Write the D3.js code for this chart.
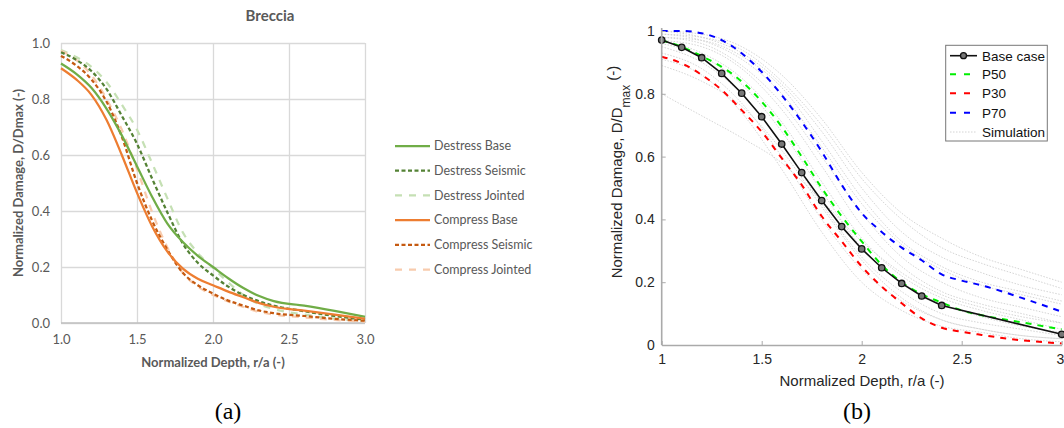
<!DOCTYPE html>
<html>
<head>
<meta charset="utf-8">
<script src="https://cdn.jsdelivr.net/npm/d3@7"></script>
<style>
body { margin: 0; background: #fff; }
svg { display: block; }
</style>
</head>
<body>
<div id="mainDiv"></div>
<script>
'use strict';

// ---- (a) Breccia ----
var depthA = [1.0, 1.1, 1.2, 1.3, 1.4, 1.5, 1.6, 1.7, 1.8, 1.9, 2.0, 2.1, 2.2, 2.3, 2.4, 2.6, 2.8, 3.0];
var destressBase    = [0.927, 0.89, 0.84, 0.765, 0.67, 0.56, 0.45, 0.355, 0.29, 0.24, 0.20, 0.16, 0.125, 0.097, 0.078, 0.062, 0.043, 0.022];
var destressSeismic = [0.967, 0.94, 0.90, 0.835, 0.74, 0.64, 0.515, 0.395, 0.285, 0.215, 0.17, 0.13, 0.10, 0.078, 0.062, 0.042, 0.025, 0.012];
var destressJointed = [0.975, 0.95, 0.915, 0.86, 0.78, 0.69, 0.57, 0.445, 0.325, 0.25, 0.197, 0.145, 0.10, 0.068, 0.05, 0.03, 0.016, 0.007];
var compressBase    = [0.91, 0.87, 0.815, 0.725, 0.60, 0.465, 0.345, 0.255, 0.195, 0.158, 0.135, 0.112, 0.092, 0.072, 0.058, 0.044, 0.03, 0.015];
var compressSeismic = [0.954, 0.92, 0.87, 0.79, 0.665, 0.50, 0.365, 0.262, 0.18, 0.135, 0.105, 0.08, 0.062, 0.045, 0.035, 0.025, 0.015, 0.008];
var compressJointed = [0.972, 0.94, 0.885, 0.80, 0.69, 0.55, 0.395, 0.27, 0.18, 0.13, 0.10, 0.077, 0.057, 0.04, 0.03, 0.02, 0.011, 0.005];
var seriesNamesA = ['Destress Base', 'Destress Seismic', 'Destress Jointed', 'Compress Base', 'Compress Seismic', 'Compress Jointed'];
var xTicksA = [1.0, 1.5, 2.0, 2.5, 3.0];
var yTicksA = [0.0, 0.2, 0.4, 0.6, 0.8, 1.0];

// ---- (b) percentiles ----
var depthBase = [1.0, 1.1, 1.2, 1.3, 1.4, 1.5, 1.6, 1.7, 1.8, 1.9, 2.0, 2.1, 2.2, 2.3, 2.4, 3.0];
var baseCase  = [0.971, 0.948, 0.915, 0.865, 0.802, 0.727, 0.64, 0.549, 0.46, 0.377, 0.306, 0.246, 0.196, 0.156, 0.126, 0.034];
var depthP = [1.0, 1.1, 1.2, 1.3, 1.4, 1.5, 1.6, 1.7, 1.8, 1.9, 2.0, 2.1, 2.2, 2.3, 2.4, 2.5, 2.6, 2.8, 3.0];
var p50 = [0.97, 0.95, 0.92, 0.886, 0.839, 0.775, 0.695, 0.60, 0.50, 0.41, 0.33, 0.255, 0.20, 0.162, 0.135, 0.11, 0.095, 0.072, 0.05];
var p30 = [0.918, 0.897, 0.86, 0.812, 0.748, 0.679, 0.595, 0.51, 0.41, 0.33, 0.25, 0.186, 0.133, 0.085, 0.055, 0.042, 0.032, 0.015, 0.005];
var p70 = [1.0, 1.0, 0.993, 0.971, 0.929, 0.87, 0.796, 0.711, 0.616, 0.51, 0.42, 0.36, 0.31, 0.27, 0.225, 0.205, 0.19, 0.15, 0.106];
var depthSim = [1.0, 1.2, 1.4, 1.6, 1.8, 2.0, 2.2, 2.4, 2.6, 2.8, 3.0];
var simulations = [
    [1.00, 0.99, 0.95, 0.86, 0.72, 0.55, 0.42, 0.34, 0.28, 0.24, 0.20],
    [0.99, 0.98, 0.94, 0.84, 0.70, 0.53, 0.40, 0.31, 0.26, 0.22, 0.18],
    [1.00, 0.98, 0.93, 0.83, 0.68, 0.50, 0.36, 0.28, 0.23, 0.19, 0.16],
    [0.98, 0.97, 0.92, 0.82, 0.65, 0.47, 0.33, 0.25, 0.20, 0.17, 0.14],
    [0.99, 0.97, 0.91, 0.80, 0.63, 0.45, 0.32, 0.24, 0.19, 0.16, 0.13],
    [0.98, 0.96, 0.89, 0.77, 0.60, 0.42, 0.28, 0.20, 0.15, 0.12, 0.09],
    [0.97, 0.95, 0.88, 0.75, 0.57, 0.38, 0.25, 0.17, 0.13, 0.10, 0.07],
    [0.97, 0.93, 0.85, 0.71, 0.52, 0.34, 0.22, 0.15, 0.11, 0.08, 0.05],
    [0.96, 0.92, 0.83, 0.68, 0.49, 0.31, 0.20, 0.13, 0.09, 0.06, 0.04],
    [0.95, 0.90, 0.80, 0.64, 0.45, 0.28, 0.17, 0.10, 0.07, 0.05, 0.03],
    [0.93, 0.88, 0.77, 0.60, 0.40, 0.24, 0.14, 0.08, 0.05, 0.03, 0.02],
    [0.91, 0.86, 0.74, 0.56, 0.36, 0.20, 0.11, 0.06, 0.04, 0.02, 0.01],
    [0.89, 0.84, 0.76, 0.62, 0.44, 0.27, 0.15, 0.08, 0.05, 0.03, 0.02],
    [0.80, 0.73, 0.66, 0.58, 0.46, 0.33, 0.23, 0.16, 0.12, 0.09, 0.07]
];
var legendNamesB = ['Base case', 'P50', 'P30', 'P70', 'Simulation'];
var xTicksB = [1, 1.5, 2, 2.5, 3];
var yTicksB = [0, 0.2, 0.4, 0.6, 0.8, 1];

var myApp = {};

myApp.pair = function(xs, ys)
{
    return xs.map(function(x, i){ return [x, ys[i]]; });
}

myApp.drawBreccia = function(svg)
{
    var font = 'Lato, "Open Sans", sans-serif';
    var grey = '#595959';
    var x = d3.scaleLinear().domain([1, 3]).range([61, 365]);
    var y = d3.scaleLinear().domain([0, 1]).range([323, 43]);

    var g = svg.append('g');

    // grid
    g.append('g')
        .attr('transform', 'translate(0,323)')
        .call(d3.axisBottom(x).tickValues(xTicksA).tickSize(-280).tickFormat(''))
        .call(function(a){ a.select('.domain').remove(); })
        .selectAll('line').attr('stroke', '#d9d9d9').attr('stroke-width', 1.3);
    g.append('g')
        .attr('transform', 'translate(61,0)')
        .call(d3.axisLeft(y).tickValues(yTicksA).tickSize(-304).tickFormat(''))
        .call(function(a){ a.select('.domain').remove(); })
        .selectAll('line').attr('stroke', '#d9d9d9').attr('stroke-width', 1.3);
    g.append('line')
        .attr('x1', x(1)).attr('x2', x(3)).attr('y1', y(0)).attr('y2', y(0))
        .attr('stroke', '#bfbfbf').attr('stroke-width', 1.3);

    // tick labels
    var xa = g.append('g')
        .attr('transform', 'translate(0,323)')
        .call(d3.axisBottom(x).tickValues(xTicksA).tickSize(0).tickPadding(12).tickFormat(d3.format('.1f')));
    var ya = g.append('g')
        .attr('transform', 'translate(61,0)')
        .call(d3.axisLeft(y).tickValues(yTicksA).tickSize(0).tickPadding(11).tickFormat(d3.format('.1f')));
    [xa, ya].forEach(function(a){
        a.select('.domain').remove();
        a.selectAll('text').attr('fill', grey).style('font-family', font).style('font-size', '13px');
    });

    var values = [destressBase, destressSeismic, destressJointed, compressBase, compressSeismic, compressJointed];
    var colors = ['#70ad47', '#548235', '#c5e0b4', '#ed7d31', '#c55a11', '#f8cbad'];
    var dashes = [null, '4,2.5', '7,7', null, '4,2.5', '7,7'];

    var line = d3.line()
        .x(function(d){ return x(d[0]); })
        .y(function(d){ return y(d[1]); })
        .curve(d3.curveMonotoneX);

    // draw light ones first so strong lines sit on top
    var order = [2, 5, 1, 4, 0, 3];
    order.forEach(function(i){
        g.append('path')
            .attr('d', line(myApp.pair(depthA, values[i])))
            .attr('fill', 'none')
            .attr('stroke', colors[i])
            .attr('stroke-width', 2.25)
            .attr('stroke-dasharray', dashes[i]);
    });

    // legend
    var lg = g.append('g');
    seriesNamesA.forEach(function(name, i){
        var cy = 146 + i * 24.7;
        lg.append('line')
            .attr('x1', 395).attr('x2', 430).attr('y1', cy).attr('y2', cy)
            .attr('stroke', colors[i]).attr('stroke-width', 2.25)
            .attr('stroke-dasharray', dashes[i]);
        lg.append('text')
            .attr('x', 434).attr('y', cy).attr('dy', '0.35em')
            .attr('fill', grey)
            .style('font-family', font).style('font-size', '12.5px')
            .text(name);
    });

    // titles
    g.append('text')
        .attr('x', 270).attr('y', 21).attr('text-anchor', 'middle')
        .attr('fill', grey).style('font-family', font).style('font-size', '15px').style('font-weight', 'bold')
        .text('Breccia');
    g.append('text')
        .attr('x', 213).attr('y', 367).attr('text-anchor', 'middle')
        .attr('fill', grey).style('font-family', font).style('font-size', '13px').style('font-weight', 'bold')
        .text('Normalized Depth, r/a (-)');
    g.append('text')
        .attr('transform', 'translate(23,183) rotate(-90)')
        .attr('text-anchor', 'middle')
        .attr('fill', grey).style('font-family', font).style('font-size', '13px').style('font-weight', 'bold')
        .text('Normalized Damage, D/Dmax (-)');
}

myApp.drawPercentiles = function(svg)
{
    var font = '"Liberation Sans", Arial, sans-serif';
    var x = d3.scaleLinear().domain([1, 3]).range([661.7, 1061.7]);
    var y = d3.scaleLinear().domain([0, 1]).range([345, 31]);

    var g = svg.append('g');

    var line = d3.line()
        .x(function(d){ return x(d[0]); })
        .y(function(d){ return y(d[1]); });
    var smooth = d3.line()
        .x(function(d){ return x(d[0]); })
        .y(function(d){ return y(d[1]); })
        .curve(d3.curveMonotoneX);

    simulations.forEach(function(s){
        g.append('path')
            .attr('d', smooth(myApp.pair(depthSim, s)))
            .attr('fill', 'none')
            .attr('stroke', '#cfcfcf')
            .attr('stroke-width', 0.9)
            .attr('stroke-dasharray', '1.5,1.5');
    });

    var pLines = [p50, p30, p70];
    var pColors = ['#00ee00', '#ff0000', '#0000ff'];
    [2, 1, 0].forEach(function(i){
        g.append('path')
            .attr('d', smooth(myApp.pair(depthP, pLines[i])))
            .attr('fill', 'none')
            .attr('stroke', pColors[i])
            .attr('stroke-width', 2)
            .attr('stroke-dasharray', '6,6');
    });

    var basePts = myApp.pair(depthBase, baseCase);
    g.append('path')
        .attr('d', line(basePts))
        .attr('fill', 'none')
        .attr('stroke', '#111')
        .attr('stroke-width', 1.6);
    g.selectAll('circle.base')
        .data(basePts)
        .enter()
        .append('circle')
        .attr('class', 'base')
        .attr('cx', function(d){ return x(d[0]); })
        .attr('cy', function(d){ return y(d[1]); })
        .attr('r', 3.2)
        .attr('fill', '#777')
        .attr('stroke', '#111')
        .attr('stroke-width', 1.3);

    // axes
    var xa = g.append('g')
        .attr('transform', 'translate(0,345)')
        .call(d3.axisBottom(x).tickValues(xTicksB).tickSizeInner(-4).tickSizeOuter(0).tickPadding(9).tickFormat(d3.format('~g')));
    var ya = g.append('g')
        .attr('transform', 'translate(661.7,0)')
        .call(d3.axisLeft(y).tickValues(yTicksB).tickSizeInner(-4).tickSizeOuter(0).tickPadding(7).tickFormat(d3.format('~g')));
    [xa, ya].forEach(function(a){
        a.select('.domain').attr('stroke', '#aaaaaa').attr('stroke-width', 1.6);
        a.selectAll('line').attr('stroke', '#aaaaaa');
        a.selectAll('text').attr('fill', '#262626').style('font-family', font).style('font-size', '14px');
    });
    ya.select('.domain').attr('d', 'M0,28V345');
    // last x label sits at the page edge: keep it inside
    xa.selectAll('.tick text').filter(function(d){ return d === 3; })
        .attr('text-anchor', 'end').attr('x', 2);

    g.append('text')
        .attr('x', 862).attr('y', 386).attr('text-anchor', 'middle')
        .attr('fill', '#262626').style('font-family', font).style('font-size', '15px')
        .text('Normalized Depth, r/a (-)');
    var yl = g.append('text')
        .attr('transform', 'translate(622,172) rotate(-90)')
        .attr('text-anchor', 'middle')
        .attr('fill', '#262626').style('font-family', font).style('font-size', '15px');
    yl.append('tspan').text('Normalized Damage, D/D');
    yl.append('tspan').attr('dy', 8).style('font-size', '12px').text('max');
    yl.append('tspan').attr('dy', -12).text(' (-)');

    // legend
    var lg = g.append('g');
    lg.append('rect')
        .attr('x', 945.7).attr('y', 45.3).attr('width', 101.6).attr('height', 95.7)
        .attr('fill', '#fff').attr('stroke', '#777').attr('stroke-width', 1);
    var rows = [55.7, 74.3, 93.3, 112.7, 132];
    legendNamesB.forEach(function(name, i){
        var cy = rows[i];
        var l = lg.append('line')
            .attr('x1', 950).attr('x2', 977).attr('y1', cy).attr('y2', cy);
        if (i === 0) {
            l.attr('stroke', '#111').attr('stroke-width', 1.6);
            lg.append('circle').attr('cx', 963.5).attr('cy', cy).attr('r', 3)
                .attr('fill', '#777').attr('stroke', '#111').attr('stroke-width', 1.3);
        } else if (i === 4) {
            l.attr('stroke', '#cfcfcf').attr('stroke-width', 0.9).attr('stroke-dasharray', '1.5,1.5');
        } else {
            l.attr('stroke', pColors[i - 1]).attr('stroke-width', 2).attr('stroke-dasharray', '6,8')
             .attr('x1', 950).attr('x2', 974);
        }
        lg.append('text')
            .attr('x', 982).attr('y', cy).attr('dy', '0.36em')
            .attr('fill', '#111').style('font-family', font).style('font-size', '13.5px')
            .text(name);
    });
}

myApp.run = function()
{
    var svg = d3.select('#mainDiv').append('svg')
        .attr('width', 1064)
        .attr('height', 428)
        .attr('viewBox', '0 0 1064 428');

    myApp.drawBreccia(svg);
    myApp.drawPercentiles(svg);

    var cap = '"Liberation Serif", "Times New Roman", serif';
    svg.append('text').attr('x', 228).attr('y', 419).attr('text-anchor', 'middle')
        .style('font-family', cap).style('font-size', '24px').text('(a)');
    svg.append('text').attr('x', 857).attr('y', 419).attr('text-anchor', 'middle')
        .style('font-family', cap).style('font-size', '24px').text('(b)');
}

myApp.run();
</script>
</body>
</html>
